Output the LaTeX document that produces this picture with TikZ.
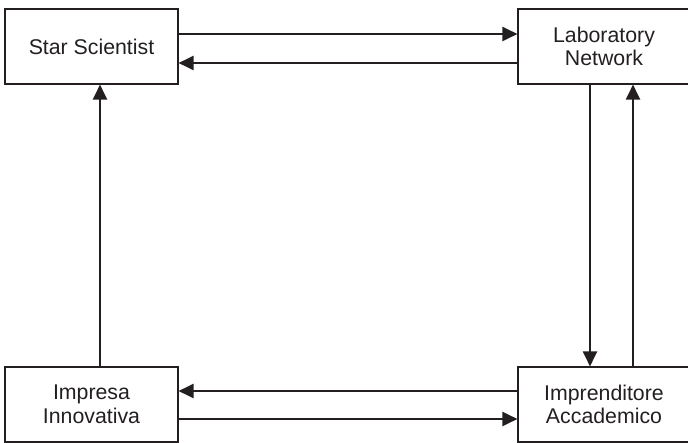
\documentclass[tikz,border=0pt]{standalone}
\usepackage{fontspec}
\setmainfont{Liberation Sans}
\usetikzlibrary{arrows.meta}
\definecolor{ink}{HTML}{231F20}
\begin{document}
\begin{tikzpicture}[x=1pt,y=-1pt,
  box/.style={draw=ink,line width=1.1pt,rectangle,inner sep=0pt,align=center,
    font=\fontsize{21.3pt}{23.5pt}\selectfont,text=ink},
  arr/.style={draw=ink,line width=2pt,-{Triangle[length=15pt,width=14pt]}}]
\useasboundingbox (0,0) rectangle (688,443);
\node[box,minimum width=173pt,minimum height=75pt] (ss) at (91.5,46.5) {Star Scientist};
\node[box,minimum width=172pt,minimum height=75pt] (ln) at (604,46.5) {Laboratory\\Network};
\node[box,minimum width=173pt,minimum height=75pt] (ii) at (91.5,404.5) {Impresa\\Innovativa};
\node[box,minimum width=172pt,minimum height=75pt] (ia) at (604,404.5) {Imprenditore\\Accademico};
\draw[arr] ([yshift=12.5pt]ss.east) -- ([yshift=12.5pt]ln.west);
\draw[arr] ([yshift=-16.5pt]ln.west) -- ([yshift=-16.5pt]ss.east);
\draw[arr] ([yshift=13.5pt]ia.west) -- ([yshift=13.5pt]ii.east);
\draw[arr] ([yshift=-14.5pt]ii.east) -- ([yshift=-14.5pt]ia.west);
\draw[arr] ([xshift=8.5pt]ii.north) -- ([xshift=8.5pt]ss.south);
\draw[arr] ([xshift=-14pt]ln.south) -- ([xshift=-14pt]ia.north);
\draw[arr] ([xshift=29pt]ia.north) -- ([xshift=29pt]ln.south);
\end{tikzpicture}
\end{document}
